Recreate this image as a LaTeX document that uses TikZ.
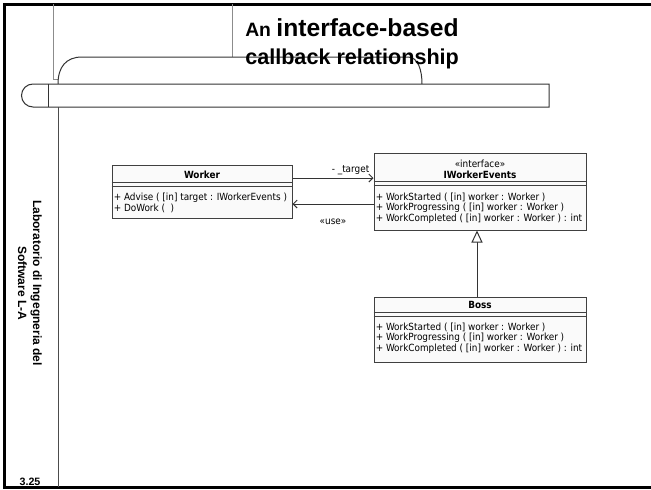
\documentclass[tikz,border=0pt]{standalone}
\usepackage{fontspec}
\setmainfont{Liberation Sans}
\newfontfamily\umlfont{DejaVu Sans Condensed}
\usetikzlibrary{arrows.meta,calc}

\begin{document}
\begin{tikzpicture}[x=0.75pt,y=-0.75pt,
  frameline/.style={line width=2.25pt,black},
  thinline/.style={line width=0.75pt,black!80},
  grayline/.style={line width=0.75pt,black!45},
  classbox/.style={draw=black!75,fill=black!2,line width=0.75pt,inner sep=0pt},
  classline/.style={draw=black!75,line width=0.75pt},
  uml/.style={inner sep=0pt,font=\umlfont\fontsize{7.4pt}{8.8pt}\selectfont},
  umlbold/.style={inner sep=0pt,font=\umlfont\bfseries\fontsize{7.4pt}{8.8pt}\selectfont},
  assoc/.style={draw=black!80,line width=0.75pt,-{Straight Barb[length=3pt,width=6pt]}},
  generalization/.style={draw=black!80,line width=0.75pt,-{Triangle[open,fill=white,length=9pt,width=8.25pt]}},
  titletext/.style={inner sep=0pt,anchor=base west,font=\bfseries},
  sidetext/.style={inner sep=0pt,font=\bfseries\fontsize{9pt}{11.25pt}\selectfont,align=center}
]
\useasboundingbox (0,0) rectangle (651,490);

% slide frame
\draw[frameline] (653,4) -- (4,4) -- (4,487) -- (653,487);

% gray header panel behind the tab
\draw[grayline] (53,4) -- (53,79) -- (232,79) -- (232,4);

% rounded title tab
\draw[thinline,fill=white] (58,84) .. controls (58,67) and (66,57) .. (82,57)
  -- (408,57) .. controls (418,57) and (422,70) .. (422,84);

% horizontal bar with rounded left cap
\draw[thinline,fill=white] (48,84) -- (549,84) -- (549,107) -- (48,107) -- (33,107)
  .. controls (26.6,107) and (21.5,101.9) .. (21.5,95.5)
  .. controls (21.5,89.1) and (26.6,84) .. (33,84) -- cycle;
\draw[thinline] (48,84) -- (48,107);

% sidebar divider
\draw[grayline,black!70] (58,107) -- (58,487);

% title
\node[titletext] (title1) at (245,36) {{\fontsize{14.5pt}{17pt}\selectfont An }{\fontsize{18.5pt}{22pt}\selectfont interface-based}};
\node[titletext] (title2) at (245,64) {\fontsize{16.2pt}{19pt}\selectfont callback relationship};

% sidebar texts
\node[sidetext,rotate=-90] (course) at (30,283) {Laboratorio di Ingegneria del\\Software L-A};
\node[inner sep=0pt,font=\bfseries\fontsize{8pt}{9.6pt}\selectfont] (pagenum) at (30,482) {3.25};

% class Worker
\node[classbox,minimum width=135pt,minimum height=39.75pt] (worker) at (202,191.5) {};
\draw[classline] ($(worker.north west)+(0,18)$) -- ($(worker.north east)+(0,18)$);
\draw[classline] ($(worker.north west)+(0,22)$) -- ($(worker.north east)+(0,22)$);
\node[umlbold,anchor=base] (workername) at ($(worker.north)+(0,13.5)$) {Worker};
\node[uml,anchor=base west] (workerop1) at ($(worker.north west)+(2,36)$) {+ Advise ( [in] target : IWorkerEvents )};
\node[uml,anchor=base west] (workerop2) at ($(worker.north west)+(2,47)$) {+ DoWork (\ \ )};

% interface IWorkerEvents
\node[classbox,minimum width=159pt,minimum height=57.75pt] (iwe) at (480,191.5) {};
\draw[classline] ($(iwe.north west)+(0,29)$) -- ($(iwe.north east)+(0,29)$);
\draw[classline] ($(iwe.north west)+(0,33)$) -- ($(iwe.north east)+(0,33)$);
\node[uml,anchor=base] (iwestereo) at ($(iwe.north)+(0,15)$) {«interface»};
\node[umlbold,anchor=base] (iwename) at ($(iwe.north)+(0,25.5)$) {IWorkerEvents};
\node[uml,anchor=base west] (iweop1) at ($(iwe.north west)+(2,47.5)$) {+ WorkStarted ( [in] worker : Worker )};
\node[uml,anchor=base west] (iweop2) at ($(iwe.north west)+(2,58)$) {+ WorkProgressing ( [in] worker : Worker )};
\node[uml,anchor=base west] (iweop3) at ($(iwe.north west)+(2,68.5)$) {+ WorkCompleted ( [in] worker : Worker ) : int};

% class Boss
\node[classbox,minimum width=159pt,minimum height=48.75pt] (boss) at (480,329.5) {};
\draw[classline] ($(boss.north west)+(0,16)$) -- ($(boss.north east)+(0,16)$);
\draw[classline] ($(boss.north west)+(0,20)$) -- ($(boss.north east)+(0,20)$);
\node[umlbold,anchor=base] (bossname) at ($(boss.north)+(0,11.5)$) {Boss};
\node[uml,anchor=base west] (bossop1) at ($(boss.north west)+(2,33.5)$) {+ WorkStarted ( [in] worker : Worker )};
\node[uml,anchor=base west] (bossop2) at ($(boss.north west)+(2,44)$) {+ WorkProgressing ( [in] worker : Worker )};
\node[uml,anchor=base west] (bossop3) at ($(boss.north west)+(2,54.5)$) {+ WorkCompleted ( [in] worker : Worker ) : int};

% relationships
\draw[assoc] ($(worker.east)+(0,-13.5)$) -- ($(iwe.west)+(0,-13.5)$);
\node[uml,anchor=base east] (targetlabel) at ($(iwe.west)+(-4,-19.5)$) {- \_target};
\draw[assoc] ($(iwe.west)+(0,12.5)$) -- ($(worker.east)+(0,12.5)$);
\node[uml,anchor=base] (uselabel) at ($(worker.east)!0.5!(iwe.west)+(0,32.5)$) {«use»};
\draw[generalization] ($(boss.north)+(-3,0)$) -- ($(iwe.south)+(-3,0)$);
\end{tikzpicture}
\end{document}
